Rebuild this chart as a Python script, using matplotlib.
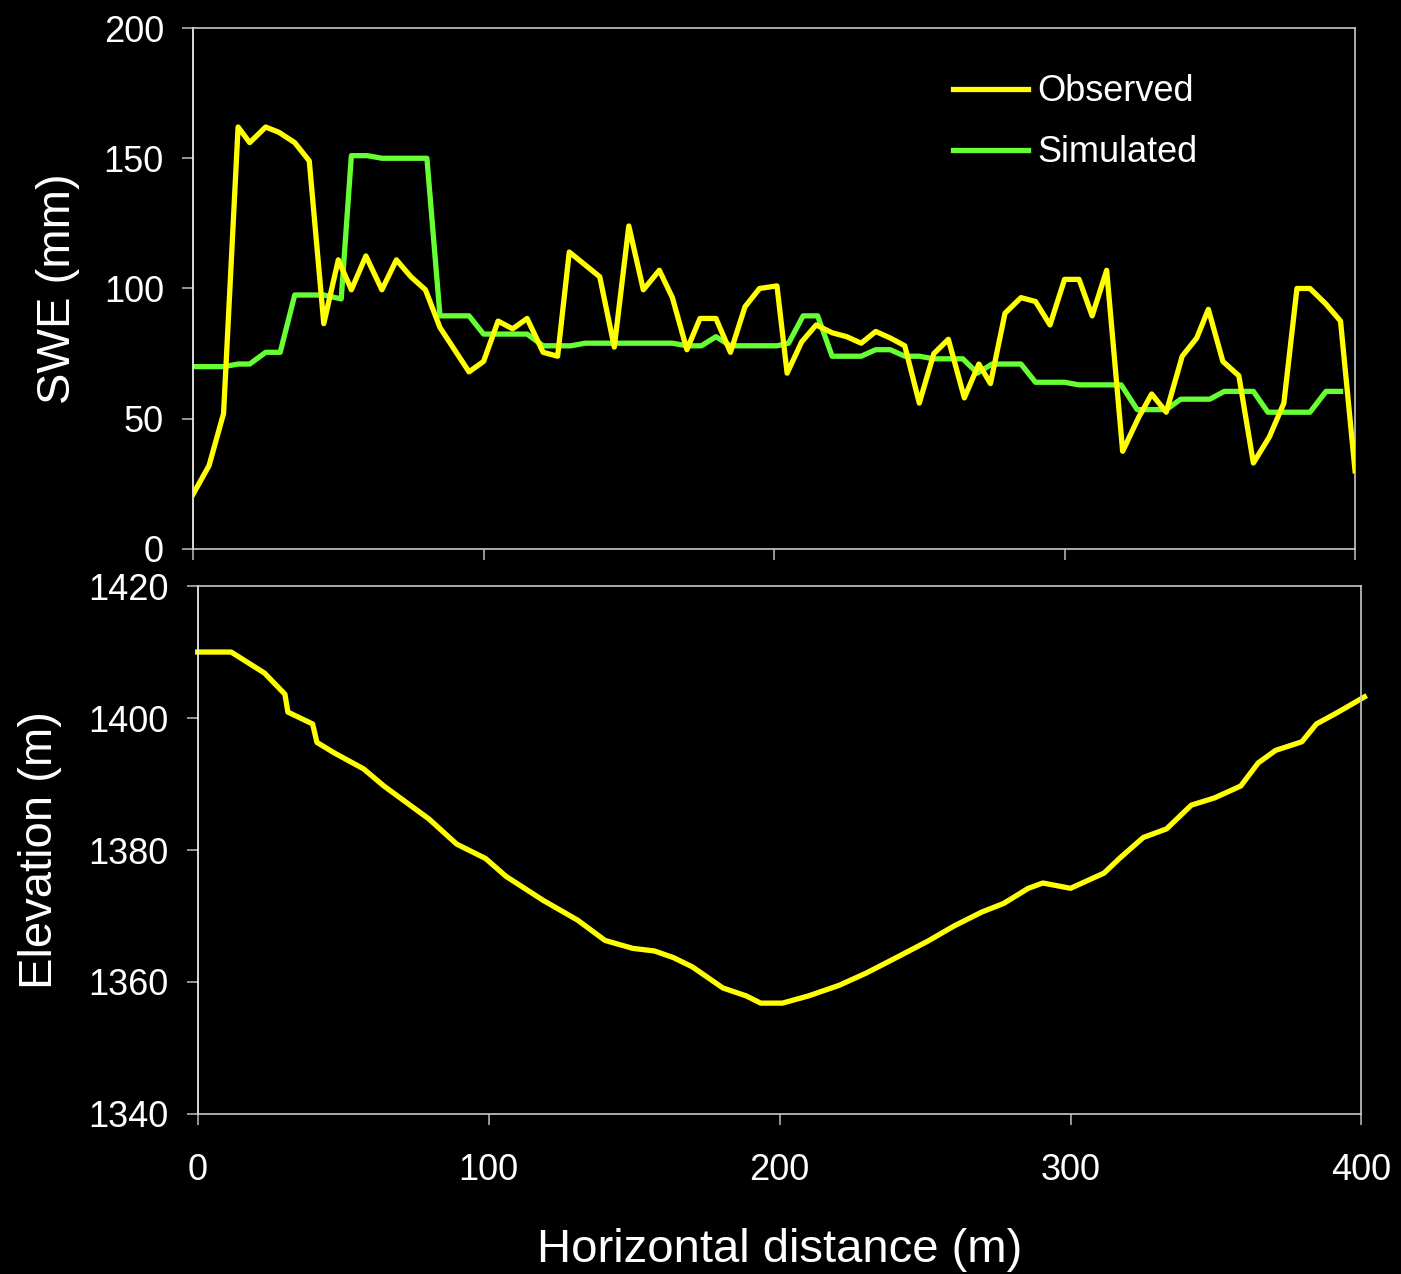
import matplotlib
matplotlib.use("Agg")
import matplotlib.pyplot as plt

###################### Parameters ######################
plt.rcParams['font.family'] = ['Liberation Sans', 'DejaVu Sans']
yellow = "#FFFF00"
green = "#66FF33"
lw = 3.8
tickSize = 26
labelSize = 34
#########################################################

######################## Data ###########################
# SWE transect (top panel)
xObs = [0, 5.5, 10.5, 15.5, 19.5, 25, 29.5, 35, 40, 45,
        50, 54.5, 59.5, 65, 70, 75, 80, 85, 95, 100,
        105, 110, 115, 120.5, 125.5, 129.5, 140, 145, 150, 155,
        160.5, 165, 170, 174.5, 180, 185, 190, 195, 201, 204.5,
        209.5, 214.5, 220, 225, 230, 235, 240, 245, 250, 255,
        260, 265.5, 270.5, 274.5, 279.5, 285, 290, 295, 300, 305,
        309.5, 314.5, 320, 325.5, 330, 335, 340.5, 345.5, 349.5, 354.5,
        360, 365, 370.5, 375.5, 380, 384.5, 390, 395, 400]
yObs = [21, 32, 52, 162, 156, 162, 160, 156, 149, 86.5,
        111, 99.5, 112.5, 99.5, 111, 104.5, 99.5, 85, 68, 72,
        87.5, 84.5, 88.5, 75.5, 74, 114, 104.5, 77.5, 124, 99.5,
        107, 96.5, 76.5, 88.5, 88.5, 75.5, 93, 100, 101, 67.5,
        79.5, 86, 83, 81.5, 79, 83.5, 81, 78, 56, 75,
        80.5, 58, 71, 63.5, 90.5, 96.5, 95, 86, 103.5, 103.5,
        89.5, 107, 37.5, 50.5, 59.5, 52.5, 74, 81, 92, 72,
        66.5, 33, 43, 56, 100, 100, 94, 87.5, 30]

xSim = [0, 10.5, 15.5, 19.5, 25, 30, 35, 45, 51, 54.5,
        60, 65, 80.5, 85, 95, 100, 115, 120.5, 130, 135,
        165, 170, 175, 180, 185, 201, 205, 210, 215, 220,
        230, 235, 240, 245, 250, 255, 265, 270, 275, 285,
        290, 300, 305, 319.5, 325, 335, 340, 350, 355, 365,
        370, 384.5, 390, 395]
ySim = [70, 70, 71, 71, 75.5, 75.5, 97.5, 97.5, 96, 151,
        151, 150, 150, 89.5, 89.5, 82.5, 82.5, 78, 78, 79,
        79, 78, 78, 81.5, 78, 78, 79, 89.5, 89.5, 74,
        74, 76.5, 76.5, 74, 74, 73, 73, 67.5, 71, 71,
        64, 64, 63, 63, 53.5, 53.5, 57.5, 57.5, 60.5, 60.5,
        52.5, 52.5, 60.5, 60.5]

# Ground profile (bottom panel)
xElev = [0, 11.5, 23, 30, 31, 39.5, 41, 47, 57, 64,
         79.5, 89, 99, 106, 119, 130.5, 140, 149.5, 157, 163.5,
         170, 180.5, 188.5, 193.5, 201, 210, 220.5, 230, 241, 251,
         260, 269.5, 277, 285.5, 290.5, 300, 311.5, 317, 325, 333,
         341.5, 349.5, 358.5, 364.5, 370.5, 379.5, 384.5, 392, 401]
yElev = [1410, 1410, 1406.8, 1403.6, 1400.9, 1399.1, 1396.3, 1394.7, 1392.3, 1389.7,
         1384.7, 1380.9, 1378.7, 1376, 1372.3, 1369.4, 1366.3, 1365.1, 1364.7, 1363.7,
         1362.3, 1359.1, 1357.9, 1356.8, 1356.8, 1357.9, 1359.5, 1361.4, 1363.9, 1366.2,
         1368.5, 1370.6, 1371.9, 1374.2, 1375, 1374.2, 1376.5, 1378.8, 1381.9, 1383.2,
         1386.8, 1387.9, 1389.7, 1393.2, 1395.1, 1396.4, 1399.1, 1400.9, 1403.2]

xTicks = [0, 100, 200, 300, 400]
sweTicks = [0, 50, 100, 150, 200]
elevTicks = [1340, 1360, 1380, 1400, 1420]
#########################################################

####################### Functions #######################
def StyleAx(ax):
    ax.set_facecolor("black")
    for side in ax.spines:
        ax.spines[side].set_color("#c8c8c8")
        ax.spines[side].set_linewidth(1.2)
    ax.spines["left"].set_color("white")
    ax.tick_params(direction="out", length=8, width=1.2, color="#b0b0b0",
                   labelcolor="white", labelsize=tickSize)
    ax.tick_params(axis="y", pad=13)
    ax.tick_params(axis="x", pad=20)
#########################################################

fig = plt.figure(figsize=(14.01, 12.74), dpi=100, facecolor="black")

# SWE panel
ax1 = fig.add_axes([0.1378, 0.5691, 0.8294, 0.4089])
StyleAx(ax1)
ax1.plot(xObs, yObs, color=yellow, lw=lw, label="Observed", zorder=3)
ax1.plot(xSim, ySim, color=green, lw=lw, label="Simulated", zorder=2)
ax1.set_xlim(0, 400)
ax1.set_ylim(0, 200)
ax1.set_xticks(xTicks)
ax1.set_xticklabels([])
ax1.set_yticks(sweTicks)
ax1.set_ylabel("SWE (mm)", color="white", fontsize=labelSize, labelpad=17)
leg = ax1.legend(loc="upper left", bbox_to_anchor=(0.654, 0.911), frameon=False,
                 fontsize=tickSize, handlelength=2.08, handletextpad=0.25,
                 labelspacing=0.72, borderpad=0, borderaxespad=0)
for t in leg.get_texts():
    t.set_color("white")

# Elevation panel
ax2 = fig.add_axes([0.1411, 0.1256, 0.8307, 0.4144])
StyleAx(ax2)
ax2.plot(xElev, yElev, color=yellow, lw=lw, clip_on=False)
ax2.set_xlim(0, 400)
ax2.set_ylim(1340, 1420)
ax2.set_xticks(xTicks)
ax2.set_yticks(elevTicks)
ax2.set_ylabel("Elevation (m)", color="white", fontsize=labelSize, labelpad=19)
ax2.set_xlabel("Horizontal distance (m)", color="white", fontsize=labelSize, labelpad=29)

fig.savefig("out.png", dpi=100, facecolor="black")
